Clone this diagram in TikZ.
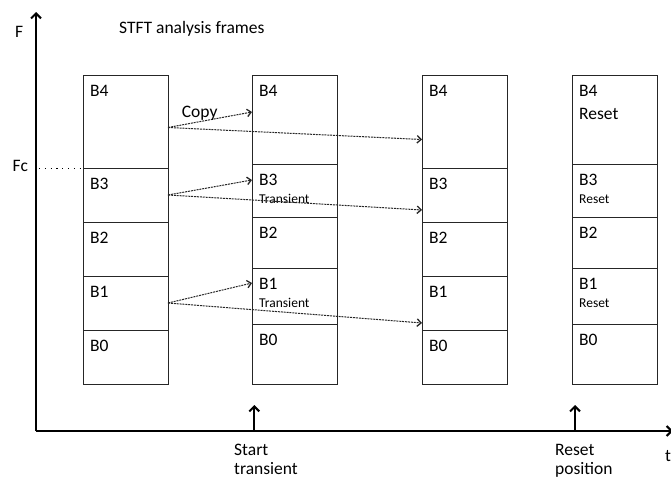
\documentclass[tikz,border=0pt]{standalone}
\usepackage{fontspec}
\setmainfont{Carlito}
\usetikzlibrary{arrows.meta}

% one frequency band of an analysis frame: #1 name, #2 left x, #3 top y, #4 bottom y
\newcommand\mkcell[4]{\node[cell, minimum height={#4-#3}] (#1) at (#2,#3) {};}
% band label at the upper left of a band: #1 name, #2 band, #3 text
\newcommand\mklabel[3]{\node[big] (#1) at ([xshift=7pt,yshift=-21.7pt]#2.north west) {#3};}
% small second line under a band label
\newcommand\mknote[3]{\node[small] (#1) at ([xshift=7pt,yshift=-39pt]#2.north west) {#3};}

\begin{document}
\begin{tikzpicture}[x=1pt,y=-1pt,
  cell/.style={draw=black!85, line width=0.8pt, minimum width=85pt,
               inner sep=0pt, outer sep=0pt, anchor=north west},
  big/.style={anchor=base west, inner sep=0pt, font=\fontsize{17.5}{21}\selectfont},
  small/.style={anchor=base west, inner sep=0pt, font=\fontsize{13.5}{16}\selectfont},
  axis/.style={line width=2pt, -{Straight Barb[length=5pt,width=10pt]}},
  copyarrow/.style={draw=black!85, line width=1pt, dash pattern=on 2pt off 0.9pt,
                    -{Straight Barb[length=4pt,width=7.5pt,line width=1.3pt]}},
  marker/.style={line width=2pt, -{Straight Barb[length=5pt,width=10pt]}}
]
\useasboundingbox (0,0) rectangle (671,479);

% axes
\coordinate (origin) at (36,431);
\coordinate (ftop) at (36,12);
\coordinate (tend) at (673,431);
\draw[axis] (origin) -- (ftop);
\draw[axis] (origin) -- (tend);
\node[big] (flab) at (15,37.3) {F};
\node[big] (tlab) at (665,461) {t};
\node[big] (title) at (119,33.3) {STFT analysis frames};

% frame 1
\mkcell{ab4}{83}{75}{168}
\mkcell{ab3}{83}{168}{222}
\mkcell{ab2}{83}{222}{276}
\mkcell{ab1}{83}{276}{330}
\mkcell{ab0}{83}{330}{384}
% frame 2
\mkcell{bb4}{252}{75}{164}
\mkcell{bb3}{252}{164}{217}
\mkcell{bb2}{252}{217}{268}
\mkcell{bb1}{252}{268}{324}
\mkcell{bb0}{252}{324}{384}
% frame 3
\mkcell{cb4}{422}{75}{168}
\mkcell{cb3}{422}{168}{222}
\mkcell{cb2}{422}{222}{276}
\mkcell{cb1}{422}{276}{330}
\mkcell{cb0}{422}{330}{384}
% frame 4
\mkcell{db4}{572}{75}{164}
\mkcell{db3}{572}{164}{217}
\mkcell{db2}{572}{217}{268}
\mkcell{db1}{572}{268}{324}
\mkcell{db0}{572}{324}{384}

% band labels
\mklabel{la4}{ab4}{B4}\mklabel{la3}{ab3}{B3}\mklabel{la2}{ab2}{B2}\mklabel{la1}{ab1}{B1}\mklabel{la0}{ab0}{B0}
\mklabel{lb4}{bb4}{B4}\mklabel{lb3}{bb3}{B3}\mklabel{lb2}{bb2}{B2}\mklabel{lb1}{bb1}{B1}\mklabel{lb0}{bb0}{B0}
\mklabel{lc4}{cb4}{B4}\mklabel{lc3}{cb3}{B3}\mklabel{lc2}{cb2}{B2}\mklabel{lc1}{cb1}{B1}\mklabel{lc0}{cb0}{B0}
\mklabel{ld4}{db4}{B4}\mklabel{ld3}{db3}{B3}\mklabel{ld2}{db2}{B2}\mklabel{ld1}{db1}{B1}\mklabel{ld0}{db0}{B0}
\node[big] (nd4) at ([xshift=7pt,yshift=-44.3pt]db4.north west) {Reset};
\mknote{nb3}{bb3}{Transient}
\mknote{nb1}{bb1}{Transient}
\mknote{nd3}{db3}{Reset}
\mknote{nd1}{db1}{Reset}

% cutoff frequency
\node[big] (fc) at (12.5,171.7) {Fc};
\draw[line width=1pt, dash pattern=on 1.2pt off 4.6pt] (origin |- ab4.south west) ++(3,0) -- (ab4.south west);

% copies of the bands above the cutoff and of the transient bands
\draw[copyarrow] ([yshift=-6pt]ab4.east) -- ([yshift=7.5pt]bb4.west);
\draw[copyarrow] ([yshift=-6pt]ab4.east) -- ([yshift=-18pt]cb4.west);
\draw[copyarrow] ([yshift=0pt]ab3.east) -- ([yshift=10.5pt]bb3.west);
\draw[copyarrow] ([yshift=0pt]ab3.east) -- ([yshift=-15pt]cb3.west);
\draw[copyarrow] ([yshift=0pt]ab1.east) -- ([yshift=13pt]bb1.west);
\draw[copyarrow] ([yshift=0pt]ab1.east) -- ([yshift=-20pt]cb1.west);
\node[big] (copy) at (181.7,117.3) {Copy};

% time markers
\coordinate (m1) at (254.3,431);
\coordinate (m1top) at (254.3,405);
\coordinate (m2) at (575,431);
\coordinate (m2top) at (575,405);
\draw[marker] (m1) -- (m1top);
\draw[marker] (m2) -- (m2top);
\node[big] (st1) at (234,455) {Start};
\node[big] (st2) at (234,474.5) {transient};
\node[big] (rp1) at (555,455) {Reset};
\node[big] (rp2) at (555,474.5) {position};
\end{tikzpicture}
\end{document}
